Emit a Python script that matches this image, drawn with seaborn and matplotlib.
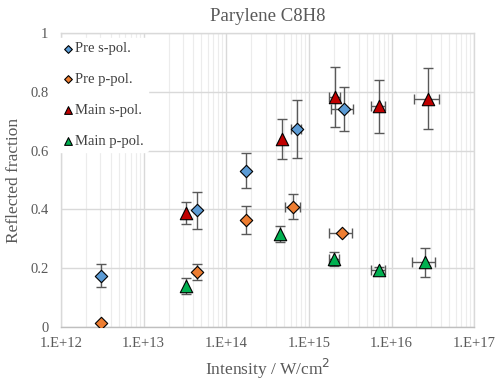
import numpy as np
import pandas as pd
import matplotlib
matplotlib.use("Agg")
import matplotlib.pyplot as plt
import seaborn as sns
from matplotlib.ticker import FixedLocator, FuncFormatter, LogLocator, NullFormatter

# ---- data ----
pre_s_x = [3.07e12, 4.4e13, 1.75e14, 7.1e14, 2.64e15]
pre_s_y = [0.174, 0.397, 0.532, 0.674, 0.743]
pre_s_yerr = [0.040, 0.062, 0.060, 0.100, 0.076]
pre_s_xerr = [0, 0, 0, 1.0e14, 0.8e15]

pre_p_x = [3.07e12, 4.4e13, 1.75e14, 6.5e14, 2.54e15]
pre_p_y = [0.013, 0.186, 0.364, 0.410, 0.320]
pre_p_yerr = [0, 0.028, 0.048, 0.041, 0]
pre_p_xerr = [0, 0, 0, 1.4e14, 0.8e15]

main_s_x = [3.29e13, 4.78e14, 2.06e15, 7.0e15, 2.8e16]
main_s_y = [0.389, 0.640, 0.782, 0.752, 0.778]
main_s_yerr = [0.037, 0.068, 0.102, 0.090, 0.104]
main_s_xerr = [0, 0, 0.3e15, 1.35e15, 0.95e16]

main_p_x = [3.29e13, 4.5e14, 2.02e15, 7.0e15, 2.55e16]
main_p_y = [0.140, 0.317, 0.231, 0.192, 0.220]
main_p_yerr = [0.028, 0.028, 0.025, 0.012, 0.050]
main_p_xerr = [0, 0, 0.28e15, 1.3e15, 0.8e16]

series_names = ["Pre s-pol.", "Pre p-pol.", "Main s-pol.", "Main p-pol."]
x_tick_labels = ["1.E+12", "1.E+13", "1.E+14", "1.E+15", "1.E+16", "1.E+17"]
y_ticks = [0, 0.2, 0.4, 0.6, 0.8, 1]

series = [
    (pre_s_x, pre_s_y, pre_s_xerr, pre_s_yerr),
    (pre_p_x, pre_p_y, pre_p_xerr, pre_p_yerr),
    (main_s_x, main_s_y, main_s_xerr, main_s_yerr),
    (main_p_x, main_p_y, main_p_xerr, main_p_yerr),
]

rows = []
for name, (xs, ys, xe, ye) in zip(series_names, series):
    for a, b, c, d in zip(xs, ys, xe, ye):
        rows.append(dict(series=name, x=a, y=b, xerr=c, yerr=d))
df = pd.DataFrame(rows)

colors = {"Pre s-pol.": "#5B9BD5", "Pre p-pol.": "#ED7D31",
          "Main s-pol.": "#C00000", "Main p-pol.": "#00B050"}
markers = {"Pre s-pol.": "D", "Pre p-pol.": "D",
           "Main s-pol.": "^", "Main p-pol.": "^"}
sizes = {"Pre s-pol.": 40, "Pre p-pol.": 40, "Main s-pol.": 80, "Main p-pol.": 80}

sns.set_style("white")
plt.rcParams['font.family'] = ['Liberation Serif', 'DejaVu Serif']

fig = plt.figure(figsize=(4.96, 3.8), dpi=100)
ax = fig.add_axes([0.123, 0.140, 0.833, 0.772])
ax.set_xscale("log")

# error bars
for name in series_names:
    sub = df[df.series == name]
    ax.errorbar(sub.x, sub.y, xerr=sub.xerr, yerr=sub.yerr, fmt="none",
                ecolor="#595959", elinewidth=1.0, capsize=3.5, capthick=1.0, zorder=3)

# points
for name in series_names:
    sub = df[df.series == name]
    sns.scatterplot(data=sub, x="x", y="y", ax=ax, color=colors[name],
                    marker=markers[name], s=sizes[name], edgecolor="black",
                    linewidth=0.8, zorder=4, label=name)

ax.set_xlim(1e12, 1e17)
ax.set_ylim(0, 1)
ax.xaxis.set_major_locator(FixedLocator([1e12, 1e13, 1e14, 1e15, 1e16, 1e17]))
ax.xaxis.set_major_formatter(FuncFormatter(lambda v, p: x_tick_labels[int(round(np.log10(v))) - 12]))
ax.xaxis.set_minor_locator(LogLocator(base=10, subs=np.arange(2, 10), numticks=50))
ax.xaxis.set_minor_formatter(NullFormatter())
ax.yaxis.set_major_locator(FixedLocator(y_ticks))
ax.yaxis.set_major_formatter(FuncFormatter(lambda v, p: "%g" % v))

ax.grid(True, which="major", axis="both", color="#d9d9d9", linewidth=1.0, zorder=0)
ax.grid(True, which="minor", axis="x", color="#ececec", linewidth=0.8, zorder=0)
ax.set_axisbelow(True)
for s in ax.spines.values():
    s.set_color("#d9d9d9")
    s.set_linewidth(1.0)
ax.spines["bottom"].set_color("#bfbfbf")
ax.tick_params(axis="both", which="both", length=0, labelsize=10.5, labelcolor="#595959")
ax.tick_params(axis="x", pad=7)
ax.tick_params(axis="y", pad=9)

ax.set_xlabel("Intensity / W/cm$^2$", fontsize=12.5, color="#595959", labelpad=5)
ax.set_ylabel("Reflected fraction", fontsize=12.5, color="#595959", labelpad=6)
ax.set_title("Parylene C8H8", fontsize=13.5, color="#595959", pad=9)

handles, labels = ax.get_legend_handles_labels()
leg = ax.legend(handles, labels, loc="upper left", bbox_to_anchor=(-0.012, 0.985),
                frameon=True, fontsize=10.5,
                labelspacing=1.2, handletextpad=0.0, borderpad=0.3,
                borderaxespad=0.0, handlelength=1.0, markerscale=0.62)
leg.get_frame().set_facecolor("white")
leg.get_frame().set_edgecolor("white")
leg.get_frame().set_alpha(1.0)
for t in leg.get_texts():
    t.set_color("#404040")

fig.savefig("out.png", dpi=100)
